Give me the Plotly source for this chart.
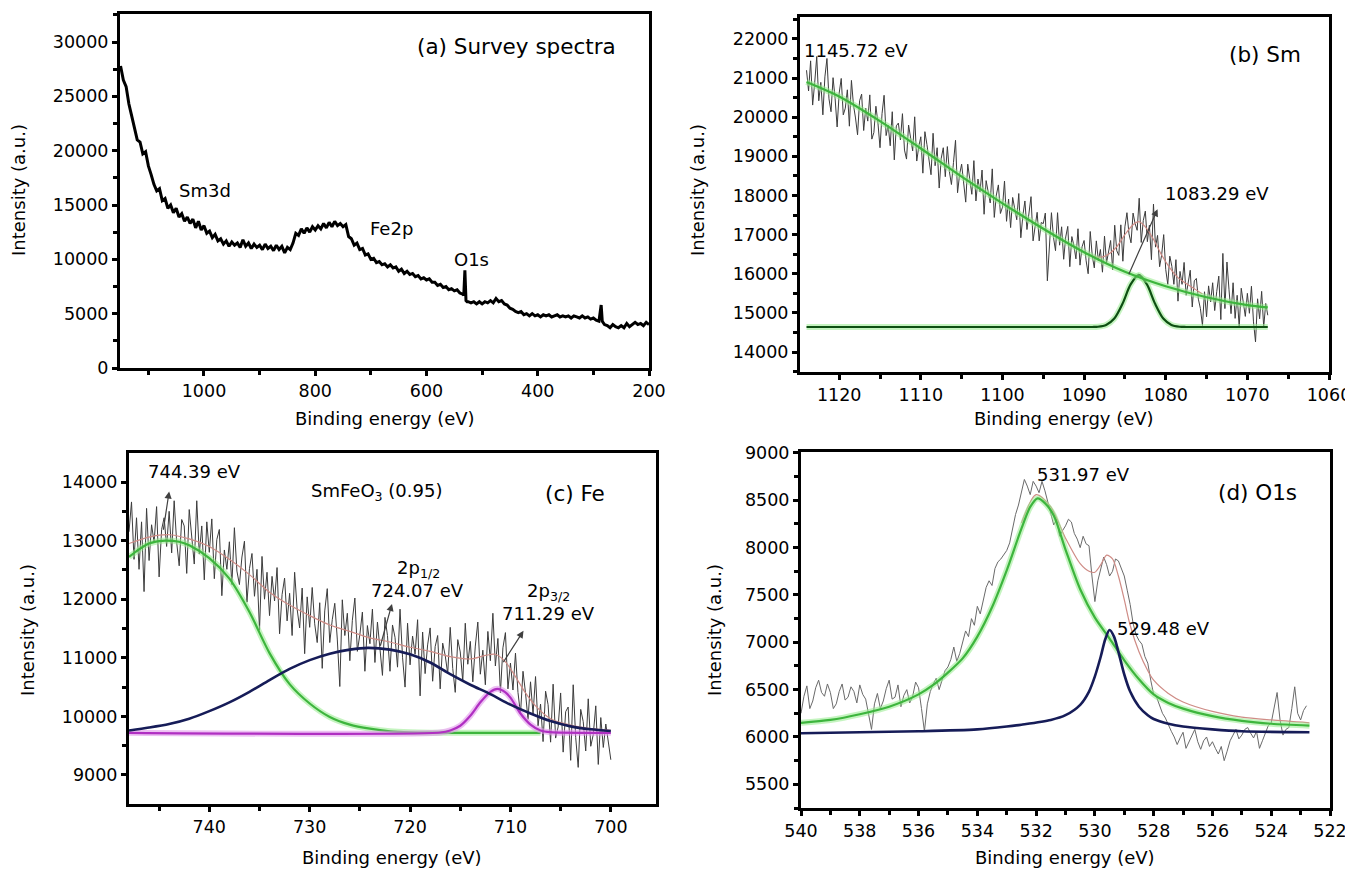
import plotly.graph_objects as go

# page body has an 8 px margin, so the figure is placed 8 px right/down from the window corner
OFF = 8
W, H = 1353 - OFF, 869 - OFF
FONT = "DejaVu Sans"

# ---------------- (a) survey spectrum ----------------
survey_be = [1150,1145,1140,1135,1130,1125,1120,1115,1110,1105,1100,1095,1090,1085,1080,1075,1070,1065,1060,1055,
             1050,1045,1040,1035,1030,1025,1020,1015,1010,1005,1000,995,990,985,980,975,970,965,960,955,
             950,945,940,935,930,925,920,915,910,905,900,895,890,885,880,875,870,865,860,855,
             850,845,840,835,830,825,820,815,810,805,800,795,790,785,780,775,770,765,760,755,
             750,745,740,735,730,725,720,715,710,705,700,695,690,685,680,675,670,665,660,655,
             650,645,640,635,630,625,620,615,610,605,600,595,590,585,580,575,570,565,560,555,
             550,545,540,535,533,531,529,527,525,520,515,510,505,500,495,490,485,480,475,470,
             465,460,455,450,445,440,435,430,425,420,415,410,405,400,395,390,385,380,375,370,
             365,360,355,350,345,340,335,330,325,320,315,310,305,300,295,290,286,284,280,275,
             270,265,260,255,250,245,240,235,230,225,220,215,210,205,200]
survey_int = [27800,26500,25900,24300,23200,22100,21000,20800,19700,19900,18600,17800,16900,16300,16500,15400,15600,14700,15000,14300,
              14700,13900,14200,13500,13900,13300,13700,12900,13500,12700,13100,12400,12600,12000,12300,11700,11900,11400,11700,11200,
              11600,11300,11500,11100,11800,11200,11500,11000,11400,11100,11300,10900,11400,11000,11200,10800,11300,10900,11200,10600,
              11100,10900,11500,12400,12200,12800,12400,12900,12500,13000,12700,13100,12800,13300,12900,13400,13000,13500,13100,13300,
              13000,13200,12100,11900,11300,11500,10900,11000,10400,10500,10000,10100,9700,9800,9500,9600,9300,9500,9200,9300,
              8900,9100,8700,8900,8600,8700,8400,8500,8200,8300,8100,8200,7900,7900,7600,7700,7400,7500,7200,7300,
              7100,7200,6900,6800,6700,9000,6200,6100,6100,6000,6100,5900,6100,5900,6100,6000,6200,6000,6400,6100,
              6200,5900,5800,5500,5400,5200,5100,5200,4900,5000,4800,5000,4800,4900,4700,4900,4800,4900,4700,4800,
              4900,4700,4800,4700,4800,4600,4800,4700,4600,4800,4600,4700,4500,4600,4400,4300,5800,4300,4000,3900,
              3700,4000,3800,3700,3900,3700,4100,3800,4000,4200,4000,4100,3900,4200,4000]

# ---------------- (b) Sm 3d (0.25 eV steps from 1124 eV) ----------------
sm_start, sm_step = 1124.0, 0.25
sm_counts = [21200,20670,21440,20310,20880,21550,20420,20890,20060,21030,21500,20470,20140,21010,20480,19750,
             20620,20990,20060,20230,20700,19770,20940,20310,19980,19550,20420,20590,19660,20230,19900,20570,
             19440,19610,20280,19850,19220,20090,20560,19530,19800,19270,20140,18910,19780,19850,19420,20090,
             19160,18930,19800,19470,19140,20010,18880,19250,19500,18570,19630,19300,18960,18530,19590,18760,
             19220,18190,18950,19220,18480,19250,18610,18280,18840,19410,18070,18540,18800,18270,17830,18800,
             18460,18030,18890,17860,18420,18090,18650,17520,18380,18050,17810,18680,17440,18010,18270,17540,
             17700,18370,17340,17910,17180,17950,17710,17380,18050,16920,17490,17860,17130,17600,17970,16840,
             17200,17570,16840,17310,17280,17550,15820,16790,17560,16930,16590,17560,16730,17200,16370,16940,
             17210,16180,16950,16720,16380,17150,16220,16690,16850,16330,16000,17080,16460,16150,16840,16330,
             16620,16040,16960,16280,16600,16850,16100,17240,16590,16470,17250,16320,17200,17560,17020,16790,
             17550,17280,17110,17930,16800,17360,17600,16820,17240,16360,17780,16680,16980,16180,16480,17000,
             16110,15730,16450,16190,15730,16360,15300,16060,15730,16290,15450,15720,16090,15150,15820,15880,
             15350,15110,14680,15540,14900,15690,15280,15770,15060,15550,15940,14830,16520,15110,16300,15590,
             14980,15770,14860,15450,14640,15630,15220,14910,15500,14990,15680,14770,14260,15360,14850,15550,
             14640,15240,14940]
sm_bg_be = [1124, 1120, 1115, 1110, 1105, 1100, 1095, 1090, 1085, 1080, 1075, 1070, 1067.5]
sm_bg = [20900, 20530, 19900, 19200, 18480, 17800, 17150, 16550, 16050, 15680, 15400, 15200, 15140]
sm_pk_be = [1124, 1089, 1088.3, 1087.3, 1086.3, 1085.3, 1084.3, 1083.3, 1082.3, 1081.3, 1080.3, 1079.3, 1078.3, 1077.5, 1067.5]
sm_pk = [14640, 14640, 14646, 14692, 14855, 15232, 15727, 15970, 15727, 15232, 14855, 14692, 14646, 14640, 14640]
sm_env_be = [1090, 1089, 1088, 1087, 1086, 1085, 1084, 1083.3, 1082.5, 1081.5, 1080.5, 1079.5, 1078.5, 1077.5, 1076.5, 1075.5]
sm_env = [16550, 16460, 16420, 16500, 16690, 17000, 17250, 17330, 17200, 16880, 16480, 16150, 15900, 15750, 15620, 15480]

# ---------------- (c) Fe 2p (0.25 eV steps from 748 eV) ----------------
fe_start, fe_step = 748.0, 0.25
fe_counts = [13150,13660,12680,13390,12510,13320,12130,13550,
             12660,13270,12970,13580,12380,13190,13390,12900,
             13500,12790,13680,12970,12570,13360,13250,12440,
             13530,13010,12600,13680,12770,13250,12330,13320,
             12800,13370,12350,13020,13190,12060,12840,12510,
             12980,12250,13220,12480,12250,12720,12990,11950,
             12520,12780,12050,12510,11470,12730,12000,12460,
             11720,12390,11970,12540,11410,12080,12360,11630,
             12100,11380,12460,11830,11510,12190,11070,12040,
             11520,12200,11580,11260,11940,10820,11800,12180,
             11260,11650,11930,11320,10510,11990,11380,11760,
             10950,11640,12020,11110,11400,11780,10770,11550,
             11240,11830,10920,11610,11110,10700,11690,11380,
             10770,11560,11350,10840,11830,11010,10500,11590,
             10880,11370,11060,11650,10350,11440,10730,11220,
             11510,10600,11190,11380,10470,11250,11040,10730,
             11520,10820,10410,11310,11100,10600,11590,10890,
             11280,10590,11200,11610,10720,11130,10540,11450,
             10950,11760,10860,11330,10400,11170,11430,10470,
             10910,10450,11080,10410,10040,10770,10400,9950,
             10590,10040,10680,9840,10210,9570,10430,10200,
             9560,10550,9630,9820,10400,9390,10080,10160,
             9250,10540,9640,9130,10120,9910,9410,10300,
             9490,9690,10180,9180,9980,9470,9870,9560,
             9260]
fe_g_be = [748, 747, 746, 745, 744.4, 743, 742, 740, 738, 736, 734, 732, 730, 728, 726, 724, 722, 720, 718, 714, 710, 707]
fe_g = [12720, 12850, 12950, 12990, 13000, 12980, 12920, 12700, 12350, 11780, 11080, 10550, 10220, 9990, 9860, 9790, 9745, 9728, 9722, 9720, 9720, 9720]
fe_n_be = [748, 746, 744, 742, 740, 738, 736, 734, 732, 730, 728, 726, 724.2, 722, 720, 718, 716, 714, 712, 710, 708, 706, 704, 702, 700]
fe_n = [9760, 9810, 9870, 9960, 10090, 10240, 10420, 10620, 10810, 10960, 11070, 11140, 11170, 11140, 11060, 10920, 10720, 10540, 10380, 10200, 10050, 9920, 9830, 9780, 9750]
fe_m_be = [748, 717, 716, 715, 714, 713, 712, 711.3, 710.5, 710, 709, 708, 707, 706, 700]
fe_m = [9720, 9725, 9760, 9840, 10010, 10240, 10420, 10470, 10410, 10320, 10050, 9860, 9760, 9730, 9720]
fe_env_be = [748, 746, 744, 742, 740, 738, 736, 734, 732, 730, 728, 726, 724, 722, 720, 718, 716, 714, 712.5, 711.5, 710.5, 709.5, 708.5, 707.5, 706, 704, 702, 700]
fe_env = [12950, 13060, 13100, 13030, 12900, 12680, 12420, 12120, 11900, 11720, 11560, 11450, 11340, 11270, 11180, 11110, 11020, 10980, 11040, 11060, 10930, 10680, 10400, 10180, 9960, 9850, 9790, 9760]

# ---------------- (d) O 1s (0.1 eV steps from 540 eV) ----------------
o_start, o_step = 540.0, 0.1
o_counts = [6250,6430,6540,6300,6380,6520,6600,6470,6430,6560,6470,6300,6350,6480,6560,6390,
            6420,6530,6480,6360,6550,6450,6400,6250,6080,6350,6460,6300,6380,6510,6600,6400,
            6420,6550,6320,6440,6500,6360,6430,6580,6520,6300,6060,6350,6480,6560,6620,6500,
            6590,6700,6740,6820,6950,6800,6880,7000,7120,7060,7250,7180,7380,7300,7460,7580,
            7650,7600,7780,7850,7880,7920,7970,8050,8200,8350,8450,8600,8720,8650,8560,8700,
            8650,8580,8700,8600,8480,8350,8240,8300,8120,8180,8230,8300,8270,8150,8090,8000,
            8120,8040,8020,7700,7430,7650,7780,7900,7820,7700,7750,7880,7860,7780,7700,7550,
            7400,7200,7080,7020,6980,6850,6780,6600,6450,6420,6330,6250,6200,6120,6060,6000,
            5920,5990,6050,5880,5950,6020,6080,5950,5870,5960,6000,5900,5950,5880,5820,5900,
            5750,5850,5960,6020,6080,5980,6020,6080,6100,6040,5990,6060,5880,5960,6050,6120,
            6150,6300,6470,6180,6020,6080,6100,6300,6530,6250,6180,6280,6330]
o_g_be = [540, 539, 538, 537, 536, 535.5, 535, 534.5, 534, 533.5, 533, 532.5, 532.2, 531.95, 531.7, 531.4, 531, 530.5, 530, 529.5, 529, 528.5, 528, 527.5, 527, 526, 525, 524, 522.7]
o_g = [6150, 6180, 6240, 6320, 6450, 6550, 6680, 6830, 7060, 7370, 7760, 8200, 8430, 8520, 8470, 8340, 7980, 7560, 7260, 7040, 6810, 6610, 6450, 6360, 6300, 6220, 6170, 6140, 6120]
o_n_be = [540, 536, 534, 533, 532.5, 531.5, 531, 530.5, 530.2, 530, 529.8, 529.65, 529.5, 529.35, 529.2, 529, 528.8, 528.5, 528.2, 528, 527.5, 527, 526, 525, 522.7]
o_n = [6040, 6060, 6080, 6110, 6130, 6180, 6230, 6340, 6480, 6640, 6850, 7030, 7130, 7060, 6900, 6660, 6480, 6320, 6230, 6190, 6140, 6110, 6080, 6060, 6050]
o_env_be = [532.5, 532.0, 531.5, 531, 530.5, 530.2, 530, 529.8, 529.6, 529.4, 529.2, 529, 528.8, 528.5, 528.2, 528, 527.5, 527, 526, 525, 524, 522.7]
o_env = [8260, 8560, 8430, 8100, 7830, 7750, 7740, 7820, 7920, 7880, 7700, 7450, 7180, 6900, 6700, 6600, 6460, 6370, 6270, 6210, 6180, 6150]

sm_be = [round(sm_start - sm_step * i, 3) for i in range(len(sm_counts))]
fe_be = [round(fe_start - fe_step * i, 3) for i in range(len(fe_counts))]
o_be = [round(o_start - o_step * i, 3) for i in range(len(o_counts))]

GREEN = "#3db53d"
GLOW = "rgba(150,235,140,0.55)"
DKGREEN = "#0d4f12"
NAVY = "#161c58"
MAGENTA = "#b02fc2"
ENV = "#cf8c86"
NOISE = "#3c3c3c"

fig = go.Figure()

def line(x, y, ax, color, width, smooth=False):
    fig.add_trace(go.Scatter(x=x, y=y, mode="lines", xaxis="x" + ax, yaxis="y" + ax,
                             line=dict(color=color, width=width,
                                       shape="spline" if smooth else "linear",
                                       smoothing=0.8 if smooth else None),
                             showlegend=False, hoverinfo="skip"))

# (a)
line(survey_be, survey_int, "", "black", 3)
# (b)
line(sm_be, sm_counts, "2", NOISE, 1)
line(sm_env_be, sm_env, "2", ENV, 1.2, True)
line(sm_pk_be, sm_pk, "2", GLOW, 6, True)
line(sm_pk_be, sm_pk, "2", DKGREEN, 2.2, True)
line(sm_bg_be, sm_bg, "2", GLOW, 6, True)
line(sm_bg_be, sm_bg, "2", GREEN, 2.2, True)
# (c)
line(fe_be, fe_counts, "3", NOISE, 1)
line(fe_env_be, fe_env, "3", ENV, 1.2, True)
line(fe_g_be, fe_g, "3", GLOW, 6, True)
line(fe_g_be, fe_g, "3", GREEN, 2.2, True)
line(fe_m_be, fe_m, "3", "rgba(225,150,235,0.6)", 6, True)
line(fe_m_be, fe_m, "3", MAGENTA, 2.2, True)
line(fe_n_be, fe_n, "3", NAVY, 2.6, True)
# (d)
line(o_be, o_counts, "4", "#6a6a6a", 1)
line(o_env_be, o_env, "4", ENV, 1.2, True)
line(o_g_be, o_g, "4", GLOW, 6, True)
line(o_g_be, o_g, "4", GREEN, 2.2, True)
line(o_n_be, o_n, "4", NAVY, 2.6, True)


# positions below are measured in the reference screenshot; convert to figure paper fractions
def fx(px):
    return (px - OFF) / W


def fy(py):
    return 1 - (py - OFF) / H


tickfont = dict(family=FONT, size=17.5, color="black")


def xa(left, right, rng, dtick, minor, anchor):
    return dict(domain=[fx(left), fx(right)], range=rng, anchor=anchor, dtick=dtick, tick0=0,
                showline=True, linecolor="black", linewidth=3, mirror=True,
                ticks="outside", ticklen=5, tickwidth=3, tickcolor="black",
                minor=dict(dtick=minor, tick0=0, ticks="outside", ticklen=4, tickwidth=3, tickcolor="black", showgrid=False),
                showgrid=False, zeroline=False, tickfont=tickfont, tickformat="d", automargin=False,
                ticklabeloverflow="allow")


def ya(top, bottom, rng, dtick, minor, anchor):
    d = xa(OFF, OFF + W, rng, dtick, minor, anchor)
    d["domain"] = [fy(bottom), fy(top)]
    return d


fig.update_layout(
    width=W, height=H, margin=dict(l=0, r=0, t=0, b=0, autoexpand=False),
    paper_bgcolor="white", plot_bgcolor="white",
    xaxis=xa(120, 649, [1151, 200], 200, 100, "y"),
    yaxis=ya(14, 368, [0, 32580], 5000, 2500, "x"),
    xaxis2=xa(800, 1329, [1124.8, 1060], 10, 5, "y2"),
    yaxis2=ya(17, 372, [13490, 22560], 1000, 500, "x2"),
    xaxis3=xa(129, 656, [748, 695.5], 10, 5, "y3"),
    yaxis3=ya(453, 804, [8505, 14495], 1000, 500, "x3"),
    xaxis4=xa(801, 1330, [540, 522], 2, 1, "y4"),
    yaxis4=ya(452, 808, [5250, 9010], 500, 250, "x4"),
)

anns = []


def txt(s, px, py, size=18, angle=0):
    anns.append(dict(text=s, x=fx(px), y=fy(py), xref="paper", yref="paper", showarrow=False,
                     xanchor="center", yanchor="middle", textangle=angle,
                     font=dict(family=FONT, size=size, color="black")))


def arrow(ax_, x0, y0, x1, y1):
    anns.append(dict(x=x1, y=y1, ax=x0, ay=y0, xref="x" + ax_, yref="y" + ax_,
                     axref="x" + ax_, ayref="y" + ax_, text="", showarrow=True,
                     arrowhead=2, arrowsize=1.2, arrowwidth=1.2, arrowcolor="#404040"))


# axis titles
for cx, cy, lx, ly in [(385, 418, 18, 190), (1064, 418, 697, 190), (392, 857, 27, 630), (1065, 857, 714, 630)]:
    txt("Binding energy (eV)", cx, cy, 18)
    txt("Intensity (a.u.)", lx, ly, 18, -90)

# (a)
txt("(a) Survey spectra", 517, 47, 21.5)
txt("Sm3d", 205, 190, 18)
txt("Fe2p", 391, 228, 18)
txt("O1s", 472, 259, 18)
# (b)
txt("1145.72 eV", 856, 50, 18)
txt("(b) Sm", 1265, 55, 21.5)
txt("1083.29 eV", 1217, 193, 18)
arrow("2", 1084.6, 15950, 1081.0, 17650)
# (c)
txt("744.39 eV", 194, 471, 18)
txt("SmFeO<sub>3</sub> (0.95)", 377, 492, 18)
txt("(c) Fe", 575, 493, 21.5)
txt("2p<sub>1/2</sub>", 418, 569, 18)
txt("724.07 eV", 417, 590, 18)
txt("2p<sub>3/2</sub>", 548, 592, 18)
txt("711.29 eV", 548, 613, 18)
arrow("3", 744.6, 13160, 744.0, 13840)
arrow("3", 723.0, 11180, 721.8, 11920)
arrow("3", 710.8, 10900, 708.7, 11460)
# (d)
txt("531.97 eV", 1083, 474, 18)
txt("(d) O1s", 1257, 492, 21.5)
txt("529.48 eV", 1163, 628, 18)

fig.update_layout(annotations=anns)
fig.write_html("out.html")
